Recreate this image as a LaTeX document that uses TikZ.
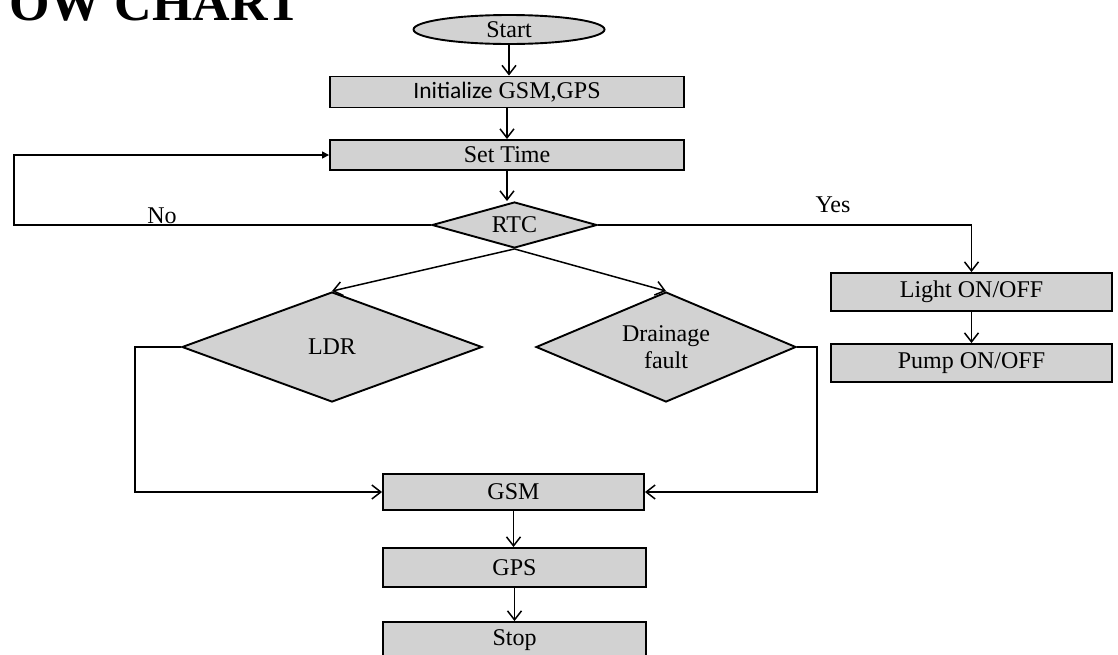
\documentclass[tikz,border=0pt]{standalone}
\usepackage{fontspec}
\setmainfont{Liberation Serif}
\newfontfamily\calib{Carlito}
\usetikzlibrary{shapes.geometric,arrows.meta}
\definecolor{boxgray}{RGB}{210,210,210}
\begin{document}
\begin{tikzpicture}[x=1pt,y=-1pt,
  every node/.style={font=\fontsize{24}{27}\selectfont},
  procbox/.style={draw,line width=1.9pt,fill=boxgray,rectangle,inner sep=0pt},
  decbox/.style={draw,line width=1.9pt,fill=boxgray,diamond,inner sep=0pt,align=center},
  termbox/.style={draw,line width=1.9pt,fill=boxgray,ellipse,inner sep=0pt,text height=18pt,text depth=2pt},
  conn/.style={line width=1.5pt,-{Straight Barb[length=9pt,width=14pt,line width=1.5pt]}},
  conntri/.style={line width=1.5pt,-{Triangle[length=7pt,width=7pt]}},
  lbl/.style={inner sep=0pt}]
\useasboundingbox (0,0) rectangle (1118,654);
\node[anchor=base east,inner sep=0pt,font=\bfseries\fontsize{52}{56}\selectfont] (title) at (301,20) {OW CHART};
\node[termbox,minimum width=191pt,minimum height=29pt] (start) at (509,29.5) {Start};
\node[procbox,minimum width=354pt,minimum height=31pt] (init) at (507,92) {{\calib\fontsize{23.5}{27}\selectfont Initialize} GSM,GPS};
\node[procbox,minimum width=354pt,minimum height=30pt] (settime) at (507,155) {Set Time};
\node[decbox,shape aspect=3.59,minimum width=165pt,minimum height=46pt] (rtc) at (514.5,225) {RTC};
\node[decbox,shape aspect=2.73,minimum width=300pt,minimum height=110pt] (ldr) at (332,347) {LDR};
\node[decbox,shape aspect=2.36,minimum width=260pt,minimum height=110pt] (drain) at (666,347) {Drainage\\fault};
\node[procbox,minimum width=281pt,minimum height=38pt] (light) at (971.5,292) {Light ON/OFF};
\node[procbox,minimum width=281pt,minimum height=38pt] (pump) at (971.5,363) {Pump ON/OFF};
\node[procbox,minimum width=261pt,minimum height=36pt] (gsm) at (513.5,492) {GSM};
\node[procbox,minimum width=263pt,minimum height=39pt] (gps) at (514.5,567.5) {GPS};
\node[procbox,minimum width=263pt,minimum height=36pt] (stop) at (514.5,640) {Stop};
\node[lbl] (no) at (162,216) {No};
\node[lbl] (yes) at (833,205) {Yes};
\coordinate (nox) at (14,0);
\coordinate (lx) at (135,0);
\coordinate (rx) at (817,0);
\draw[conn] (start.south) -- (start.south |- init.north);
\draw[conn] (init.south) -- (init.south |- settime.north);
\draw[conn] (settime.south) -- (settime.south |- rtc.north);
\draw[conntri] (rtc.west) -- (rtc.west -| nox) |- (settime.west);
\draw[conn] (rtc.east) -| (light.north);
\draw[conn] (rtc.south) -- (ldr.north);
\draw[conn] (rtc.south) -- (drain.north);
\draw[conn] (ldr.west) -- (ldr.west -| lx) |- (gsm.west);
\draw[conn] (drain.east) -- (drain.east -| rx) |- (gsm.east);
\draw[conn] (light.south) -- (pump.north);
\draw[conn] (gsm.south) -- (gsm.south |- gps.north);
\draw[conn] (gps.south) -- (gps.south |- stop.north);
\end{tikzpicture}
\end{document}
